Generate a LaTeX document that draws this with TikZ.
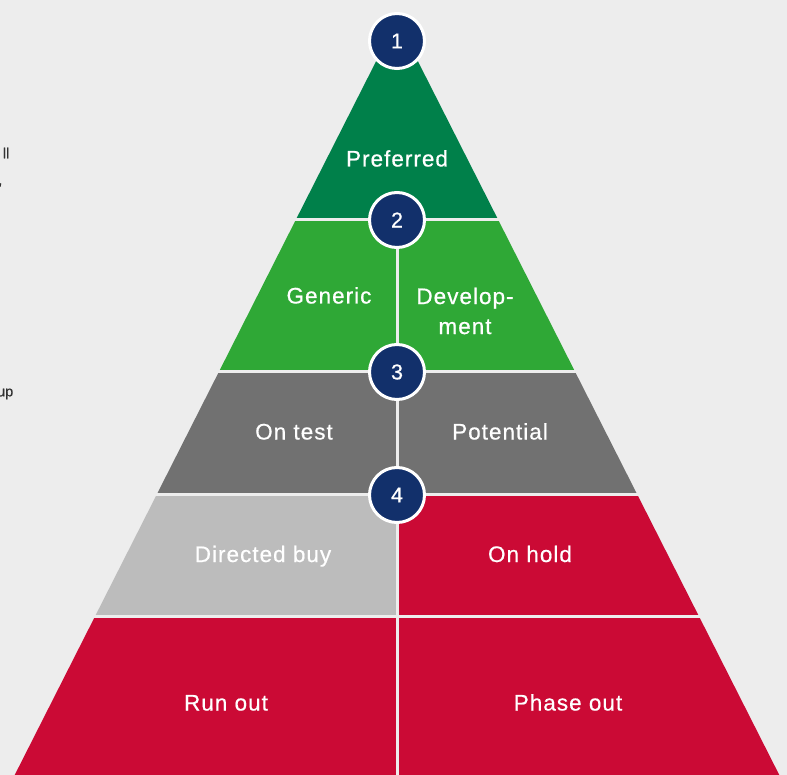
\documentclass[tikz,border=0pt]{standalone}
\usepackage{fontspec}
\setmainfont{Liberation Sans}
\newfontfamily\tierfont[LetterSpace=4.5,FakeBold=0.6]{Liberation Sans}
\newfontfamily\badgefont[FakeBold=0.6]{Liberation Sans}
\definecolor{bg}{HTML}{EDEDED}
\definecolor{darkgreen}{HTML}{00804A}
\definecolor{lightgreen}{HTML}{2FA836}
\definecolor{darkgray}{HTML}{717171}
\definecolor{lightgray}{HTML}{BCBCBC}
\definecolor{tierred}{HTML}{CB0A35}
\definecolor{navy}{HTML}{12306B}
\definecolor{fragtext}{HTML}{333333}

\begin{document}
\begin{tikzpicture}[x=1pt,y=-1pt,
  tiertext/.style={text=white,font=\tierfont\fontsize{22.5}{30}\selectfont,align=center,anchor=base},
  badge/.style={circle,minimum size=55pt,inner sep=0pt,fill=navy,draw=white,line width=3pt,text=white,font=\badgefont\fontsize{21.5}{24}\selectfont},
  gap/.style={draw=bg,line width=3pt},
  fragment/.style={anchor=east,inner sep=0pt,text=fragtext,font=\badgefont\fontsize{14.5}{16}\selectfont}]
\fill[bg] (0,0) rectangle (787,775);
\useasboundingbox (0,0) rectangle (787,775);

\fill[darkgreen] (397,20) -- (498.3,220) -- (295.7,220) -- cycle;
\fill[lightgreen] (295.7,220) -- (498.3,220) -- (575.2,372) -- (218.8,372) -- cycle;
\fill[darkgray] (218.8,372) -- (575.2,372) -- (637,494) -- (157,494) -- cycle;
\fill[lightgray] (157,494) -- (397,494) -- (397,616) -- (95.2,616) -- cycle;
\fill[tierred] (397,494) -- (637,494) -- (698.8,616) -- (397,616) -- cycle;
\fill[tierred] (95.2,616) -- (698.8,616) -- (779.3,775) -- (14.7,775) -- cycle;

\draw[gap] (0,220) -- (787,220);
\draw[gap] (0,372) -- (787,372);
\draw[gap] (0,494) -- (787,494);
\draw[gap] (0,616) -- (787,616);
\coordinate (top) at (397,220);
\coordinate (base) at (397,776);
\draw[gap] (top) -- (base);

\draw (397,41) node[badge](one) {1};
\draw (397,220) node[badge](two) {2};
\draw (397,372) node[badge](three) {3};
\draw (397,495) node[badge](four) {4};

\node[tiertext] (preferred) at (397,166.5) {Preferred};
\node[tiertext] (generic) at (329,303.5) {Generic};
\node[tiertext,anchor=center] (development) at (465,311) {Develop-\\ment};
\node[tiertext] (ontest) at (294,439.5) {On test};
\node[tiertext] (potential) at (500,439.5) {Potential};
\node[tiertext] (directed) at (263,562) {Directed buy};
\node[tiertext] (onhold) at (530,562) {On hold};
\node[tiertext] (runout) at (226,710.5) {Run out};
\node[tiertext] (phaseout) at (568,710.5) {Phase out};

\node[fragment] (fragll) at (9.5,153) {ll};
\node[fragment] (fragcomma) at (2.5,185) {,};
\node[fragment] (fragup) at (13.5,394) {up};
\end{tikzpicture}
\end{document}
